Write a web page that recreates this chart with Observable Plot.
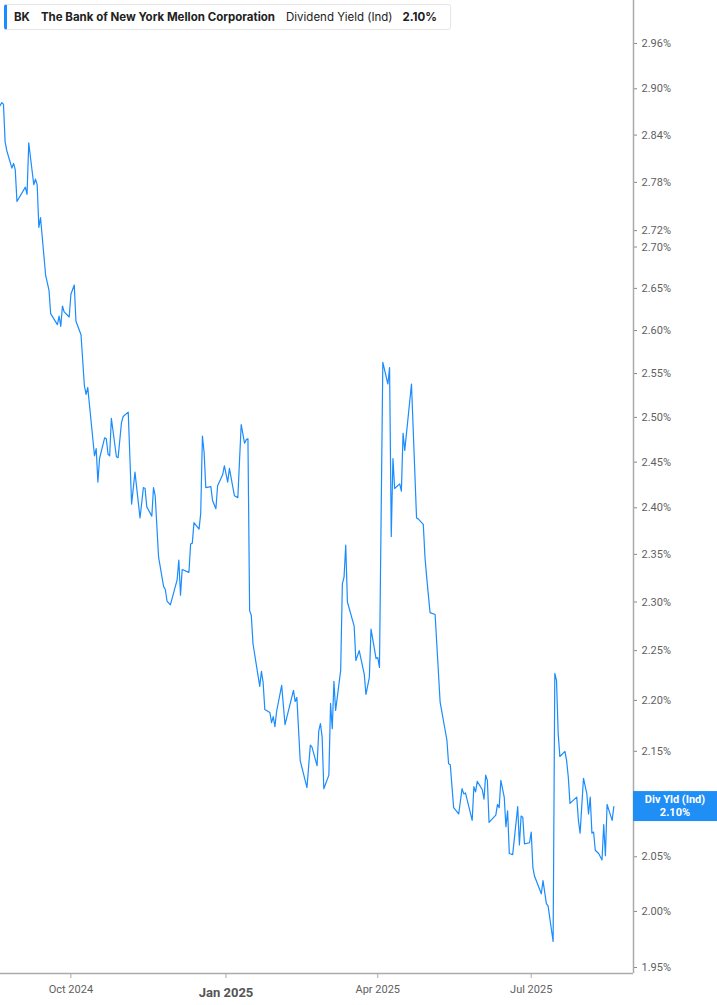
<!DOCTYPE html>
<html><head><meta charset="utf-8">
<script src="https://cdn.jsdelivr.net/npm/d3@7"></script>
<script src="https://cdn.jsdelivr.net/npm/@observablehq/plot@0.6"></script>
<style>
body{margin:0;background:#fff;}
#wrap{position:relative;width:717px;height:1005px;overflow:hidden;}
#legend{position:absolute;left:4px;top:4px;height:26px;width:447px;box-sizing:border-box;border:1px solid #e6e6e6;border-left:3px solid #1a8cff;border-radius:3px;background:#fff;display:flex;align-items:center;font-family:Inter,Roboto,sans-serif;font-size:11.5px;color:#222;white-space:nowrap;}
#legend span{margin-left:0}
</style></head>
<body><div id="wrap"><div id="chart"></div>
<div id="legend"><span style="font-weight:700;margin-left:7px">BK</span><span style="font-weight:700;margin-left:11px">The Bank of New York Mellon Corporation</span><span style="margin-left:11px">Dividend Yield (Ind)</span><span style="font-weight:700;margin-left:10px">2.10%</span></div>
</div>
<script>
const dates = ["2024-08-20","2024-08-21","2024-08-22","2024-08-23","2024-08-24","2024-08-27","2024-08-28","2024-08-29","2024-08-30","2024-09-04","2024-09-05","2024-09-06","2024-09-07","2024-09-09","2024-09-10","2024-09-11","2024-09-12","2024-09-13","2024-09-16","2024-09-18","2024-09-19","2024-09-23","2024-09-24","2024-09-25","2024-09-26","2024-09-27","2024-09-30","2024-10-01","2024-10-03","2024-10-04","2024-10-07","2024-10-09","2024-10-10","2024-10-11","2024-10-15","2024-10-16","2024-10-17","2024-10-18","2024-10-21","2024-10-22","2024-10-23","2024-10-24","2024-10-25","2024-10-28","2024-10-29","2024-10-31","2024-11-01","2024-11-04","2024-11-06","2024-11-08","2024-11-11","2024-11-13","2024-11-14","2024-11-15","2024-11-18","2024-11-19","2024-11-20","2024-11-22","2024-11-25","2024-11-26","2024-11-27","2024-11-29","2024-12-03","2024-12-04","2024-12-05","2024-12-06","2024-12-10","2024-12-11","2024-12-12","2024-12-13","2024-12-16","2024-12-17","2024-12-18","2024-12-19","2024-12-20","2024-12-23","2024-12-24","2024-12-26","2024-12-27","2024-12-30","2024-12-31","2025-01-02","2025-01-03","2025-01-06","2025-01-08","2025-01-10","2025-01-12","2025-01-13","2025-01-14","2025-01-15","2025-01-16","2025-01-17","2025-01-21","2025-01-22","2025-01-23","2025-01-24","2025-01-27","2025-01-28","2025-01-29","2025-01-30","2025-01-31","2025-02-03","2025-02-05","2025-02-10","2025-02-11","2025-02-12","2025-02-14","2025-02-18","2025-02-20","2025-02-21","2025-02-24","2025-02-25","2025-02-26","2025-02-27","2025-02-28","2025-03-03","2025-03-04","2025-03-05","2025-03-06","2025-03-07","2025-03-10","2025-03-11","2025-03-12","2025-03-13","2025-03-14","2025-03-18","2025-03-19","2025-03-21","2025-03-24","2025-03-25","2025-03-27","2025-03-28","2025-03-31","2025-04-01","2025-04-02","2025-04-04","2025-04-07","2025-04-08","2025-04-09","2025-04-10","2025-04-11","2025-04-14","2025-04-15","2025-04-16","2025-04-17","2025-04-21","2025-04-24","2025-04-25","2025-04-28","2025-04-29","2025-04-30","2025-05-02","2025-05-05","2025-05-08","2025-05-12","2025-05-13","2025-05-14","2025-05-16","2025-05-19","2025-05-21","2025-05-22","2025-05-23","2025-05-27","2025-05-28","2025-05-29","2025-05-30","2025-06-02","2025-06-03","2025-06-04","2025-06-05","2025-06-06","2025-06-10","2025-06-11","2025-06-12","2025-06-13","2025-06-15","2025-06-16","2025-06-17","2025-06-18","2025-06-20","2025-06-23","2025-06-24","2025-06-25","2025-06-26","2025-06-27","2025-06-30","2025-07-01","2025-07-02","2025-07-03","2025-07-07","2025-07-08","2025-07-10","2025-07-11","2025-07-14","2025-07-15","2025-07-16","2025-07-17","2025-07-18","2025-07-21","2025-07-22","2025-07-23","2025-07-24","2025-07-28","2025-07-29","2025-07-30","2025-08-01","2025-08-03","2025-08-04","2025-08-05","2025-08-06","2025-08-07","2025-08-08","2025-08-10","2025-08-12","2025-08-13","2025-08-14","2025-08-15","2025-08-18","2025-08-19"];
const yields = [2.878,2.882,2.880,2.831,2.820,2.798,2.804,2.796,2.756,2.774,2.765,2.830,2.812,2.777,2.784,2.777,2.724,2.736,2.666,2.648,2.620,2.607,2.617,2.605,2.629,2.622,2.616,2.643,2.654,2.611,2.595,2.536,2.526,2.534,2.457,2.465,2.428,2.454,2.477,2.476,2.459,2.457,2.499,2.456,2.455,2.494,2.501,2.506,2.404,2.439,2.389,2.422,2.421,2.401,2.391,2.422,2.413,2.347,2.316,2.313,2.301,2.297,2.323,2.344,2.307,2.334,2.331,2.361,2.362,2.384,2.377,2.394,2.479,2.461,2.422,2.423,2.408,2.399,2.424,2.436,2.446,2.428,2.443,2.413,2.411,2.492,2.471,2.475,2.476,2.291,2.286,2.257,2.214,2.229,2.218,2.191,2.188,2.178,2.184,2.174,2.189,2.215,2.176,2.210,2.199,2.203,2.141,2.115,2.156,2.154,2.136,2.170,2.177,2.164,2.114,2.127,2.197,2.172,2.219,2.190,2.230,2.319,2.326,2.360,2.300,2.275,2.240,2.250,2.226,2.206,2.223,2.272,2.242,2.243,2.233,2.563,2.538,2.557,2.369,2.454,2.421,2.426,2.418,2.482,2.463,2.538,2.389,2.388,2.382,2.347,2.326,2.289,2.287,2.198,2.161,2.138,2.137,2.096,2.090,2.114,2.109,2.110,2.084,2.116,2.111,2.121,2.113,2.104,2.127,2.122,2.082,2.089,2.099,2.096,2.122,2.106,2.078,2.093,2.053,2.052,2.097,2.061,2.088,2.087,2.062,2.063,2.073,2.040,2.032,2.016,2.028,2.007,2.005,1.973,2.227,2.220,2.167,2.145,2.150,2.141,2.125,2.100,2.106,2.084,2.072,2.124,2.109,2.090,2.106,2.072,2.073,2.056,2.053,2.047,2.080,2.051,2.099,2.084,2.097];
const yTicks = [2.96,2.90,2.84,2.78,2.72,2.70,2.65,2.60,2.55,2.50,2.45,2.40,2.35,2.30,2.25,2.20,2.15,2.05,2.00,1.95];
const xTicksRegular = ["2024-10-01","2025-04-01","2025-07-01"];
const xTicksBold = ["2025-01-01"];
const labelTitle = "Div Yld (Ind)";

const data = dates.map((d, i) => ({date: new Date(d), value: yields[i]}));
const xDomain = [new Date(Date.UTC(2024,7,20,6)), new Date(Date.UTC(2025,7,30,16))];
const yDomain = [1.9447, 3.018];
const fmtX = d3.utcFormat("%b %Y");
const lineColor = "#1a8cff";

const plot = Plot.plot({
  width: 717, height: 1005,
  marginTop: 0, marginBottom: 32, marginLeft: 0, marginRight: 84,
  style: {fontFamily: "Roboto, sans-serif", color: "#5f5f5f", background: "#fff"},
  x: {type: "utc", domain: xDomain, axis: null, label: null},
  y: {type: "log", domain: yDomain, axis: null, label: null},
  marks: [
    Plot.axisX(xTicksRegular.map(d => new Date(d)), {anchor: "bottom", label: null, tickSize: 5, tickPadding: 7, tickFormat: fmtX, fontSize: 11, stroke: "#aaa", fill: "#5f5f5f"}),
    Plot.axisX(xTicksBold.map(d => new Date(d)), {anchor: "bottom", label: null, tickSize: 5, tickPadding: 9, tickFormat: fmtX, fontSize: 13, fontWeight: "bold", stroke: "#aaa", fill: "#555"}),
    Plot.axisY(yTicks, {anchor: "right", label: null, tickSize: 3, tickPadding: 5, tickFormat: d => d.toFixed(2) + "%", fontSize: 11, stroke: "#888", fill: "#5f5f5f"}),
    Plot.ruleY([yDomain[0]], {stroke: "#aaa", strokeWidth: 1.5}),
    Plot.ruleX([xDomain[1]], {stroke: "#aaa", strokeWidth: 1.5}),
    Plot.line(data, {x: "date", y: "value", stroke: lineColor, strokeWidth: 1.2})
  ]
});
document.getElementById("chart").appendChild(plot);

// current-value label box on the right axis
const last = data[data.length - 1];
const yPos = plot.scale("y").apply(last.value);
const xPos = plot.scale("x").apply(xDomain[1]);
const svg = d3.select(plot);
const g = svg.append("g");
g.append("rect").attr("x", xPos).attr("y", yPos - 15).attr("width", 717 - xPos).attr("height", 30).attr("fill", "#1f8ef5");
g.append("text").attr("x", xPos + 42).attr("y", yPos - 3).attr("text-anchor", "middle").attr("fill", "#fff").attr("font-size", 11).attr("font-weight", "bold").attr("font-family", "Roboto, sans-serif").text(labelTitle);
g.append("text").attr("x", xPos + 42).attr("y", yPos + 10).attr("text-anchor", "middle").attr("fill", "#fff").attr("font-size", 11).attr("font-weight", "bold").attr("font-family", "Roboto, sans-serif").text(last.value.toFixed(2) + "%");
</script></body></html>
